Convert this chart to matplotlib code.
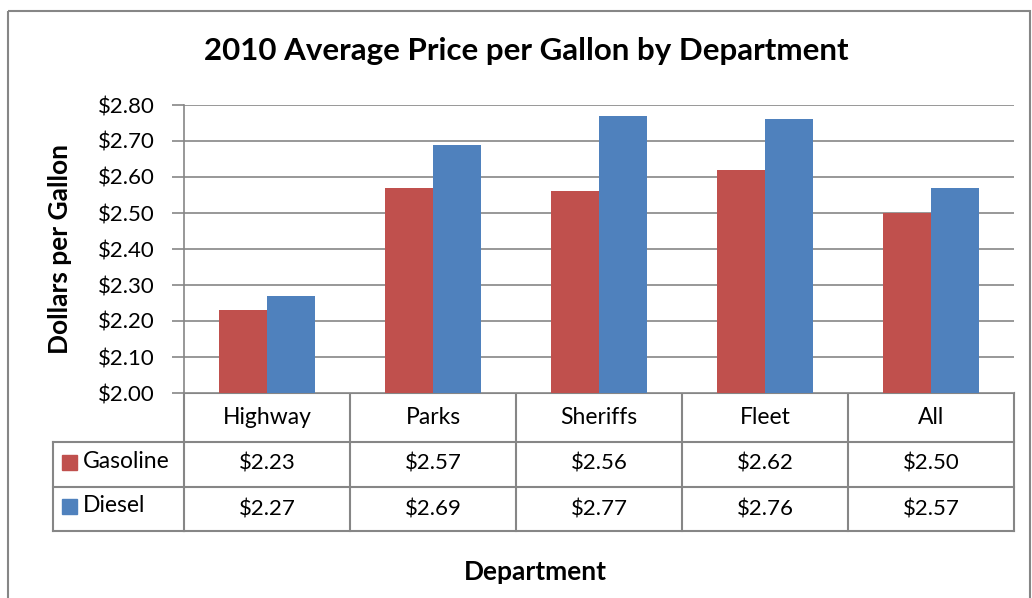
import matplotlib
matplotlib.use("Agg")
import matplotlib.pyplot as plt
import matplotlib.transforms as mtransforms
from matplotlib.patches import Rectangle
import numpy as np

plt.rcParams['font.family'] = ['Lato', 'DejaVu Sans']

categories = ["Highway", "Parks", "Sheriffs", "Fleet", "All"]
gasoline = [2.23, 2.57, 2.56, 2.62, 2.50]
diesel = [2.27, 2.69, 2.77, 2.76, 2.57]
series_names = ["Gasoline", "Diesel"]
yticks = [2.00, 2.10, 2.20, 2.30, 2.40, 2.50, 2.60, 2.70, 2.80]

RED = "#C0504D"
BLUE = "#4F81BD"
GRID = "#868686"

W, H = 1032, 598
fig = plt.figure(figsize=(W / 100, H / 100), dpi=100)

def px(x0, y0, x1, y1):
    return [x0 / W, 1 - y1 / H, (x1 - x0) / W, (y1 - y0) / H]

# outer chart border
overlay = fig.add_axes([0, 0, 1, 1])
overlay.set_xlim(0, W)
overlay.set_ylim(H, 0)
overlay.axis("off")
overlay.add_patch(Rectangle((7.5, 10.5), 1022, 620, fill=False, edgecolor=GRID, lw=1.5))

ax = fig.add_axes(px(184, 105, 1014, 393))
x = np.arange(len(categories))
bw = 0.29
ax.bar(x - bw / 2, np.array(gasoline) - 2.0, bw, bottom=2.0, color=RED, zorder=3)
ax.bar(x + bw / 2, np.array(diesel) - 2.0, bw, bottom=2.0, color=BLUE, zorder=3)
ax.set_xlim(-0.5, len(categories) - 0.5)
ax.set_ylim(2.0, 2.8)
ax.set_yticks(yticks)
ax.set_yticklabels([f"${v:.2f}" for v in yticks], fontsize=16)
ax.yaxis.grid(True, color=GRID, lw=1.2, zorder=0)
ax.set_xticks([])
for s in ["top", "right", "bottom"]:
    ax.spines[s].set_visible(False)
ax.spines["left"].set_color(GRID)
ax.spines["left"].set_linewidth(1.2)
ax.tick_params(axis="y", length=9, color=GRID, width=1.2, pad=12)

# data table drawn below the axes, x in data coordinates, y in pixels
trans = mtransforms.blended_transform_factory(ax.transData, overlay.transData)
row_edges = [393, 442, 487, 531]
lw = 1.5
for i in range(len(categories) + 1):
    xe = i - 0.5
    overlay.plot([xe, xe], [row_edges[0], row_edges[-1]], color=GRID, lw=lw, transform=trans, clip_on=False)
overlay.plot([-0.5, len(categories) - 0.5], [393, 393], color=GRID, lw=lw, transform=trans, clip_on=False)
for yy in row_edges[1:]:
    overlay.plot([53, 184], [yy, yy], color=GRID, lw=lw, clip_on=False)
    overlay.plot([-0.5, len(categories) - 0.5], [yy, yy], color=GRID, lw=lw, transform=trans, clip_on=False)
overlay.plot([53, 53], [row_edges[1], row_edges[-1]], color=GRID, lw=lw, clip_on=False)

for i, c in enumerate(categories):
    overlay.text(i, 418, c, transform=trans, ha="center", va="center", fontsize=16.5)
    overlay.text(i, 464, f"${gasoline[i]:.2f}", transform=trans, ha="center", va="center", fontsize=16)
    overlay.text(i, 509, f"${diesel[i]:.2f}", transform=trans, ha="center", va="center", fontsize=16)

for name, col, yc in [(series_names[0], RED, 462), (series_names[1], BLUE, 506)]:
    overlay.add_patch(Rectangle((62, yc - 7.5), 15, 15, color=col))
    overlay.text(83, yc, name, ha="left", va="center", fontsize=16.5)

overlay.text(526, 51, "2010 Average Price per Gallon by Department", ha="center", va="center",
             fontsize=22.5, fontweight="bold")
overlay.text(60, 249, "Dollars per Gallon", ha="center", va="center", rotation=90,
             fontsize=19, fontweight="bold")
overlay.text(535, 572, "Department", ha="center", va="center", fontsize=19, fontweight="bold")

fig.savefig("out.png", dpi=100)
